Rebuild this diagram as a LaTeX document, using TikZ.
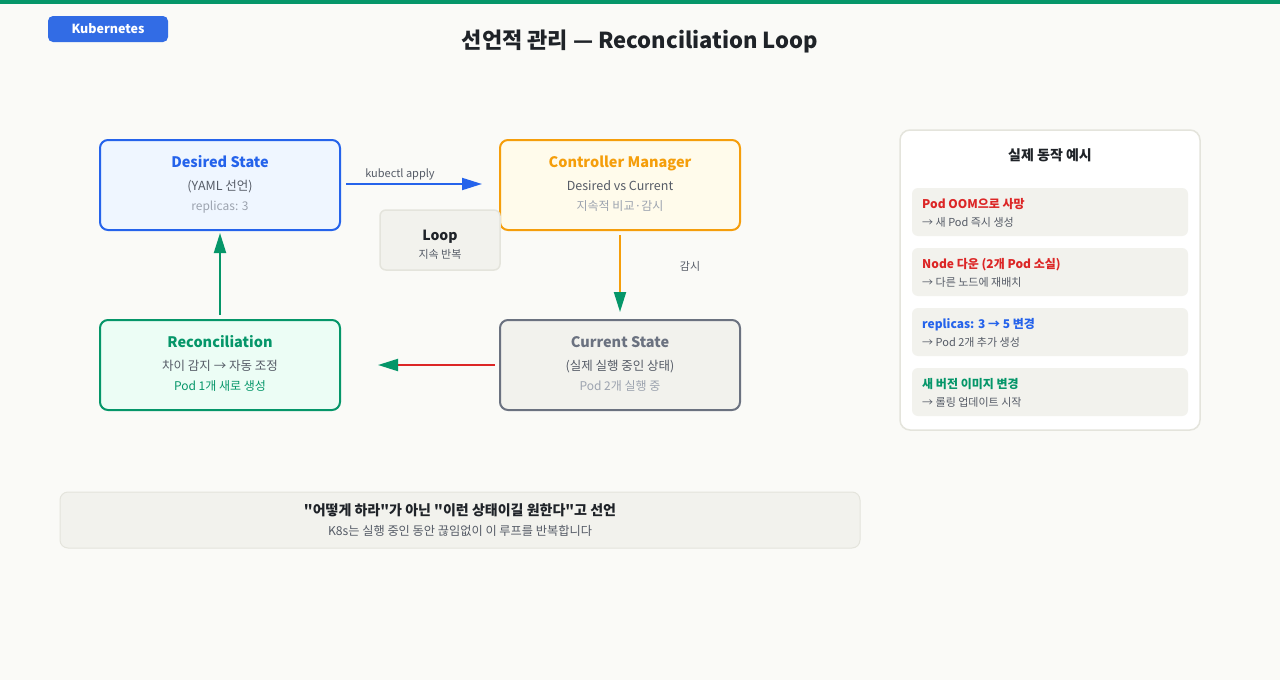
\documentclass[tikz,border=0pt]{standalone}
\usepackage{fontspec}
\setmainfont{Noto Sans CJK KR}[Ligatures=TeXOff]
\usetikzlibrary{arrows.meta, positioning, calc}
\definecolor{bgpaper}{HTML}{FAFAF7}
\definecolor{k8sgreen}{HTML}{059669}
\definecolor{k8sblue}{HTML}{326CE5}
\definecolor{stblue}{HTML}{2563EB}
\definecolor{storange}{HTML}{F59E0B}
\definecolor{stred}{HTML}{DC2626}
\definecolor{stgray}{HTML}{6B7280}
\definecolor{txtdark}{HTML}{1F2328}
\definecolor{txtmid}{HTML}{555B66}
\definecolor{txtlight}{HTML}{9CA3AF}
\definecolor{softfill}{HTML}{F2F2ED}
\definecolor{softline}{HTML}{E4E4DC}
\definecolor{bluefill}{HTML}{EFF6FF}
\definecolor{orangefill}{HTML}{FFFBEB}
\definecolor{greenfill}{HTML}{ECFDF5}
\tikzset{
  statebox/.style={draw=#1, line width=2pt, rounded corners=8pt, minimum width=240pt, minimum height=90pt, inner sep=0pt},
  ttl/.style={anchor=base, inner sep=0pt, text=#1, font=\fontsize{14.5}{17}\selectfont\bfseries},
  sub/.style={anchor=base, inner sep=0pt, text=txtmid, font=\fontsize{12.5}{15}\selectfont},
  note/.style={anchor=base, inner sep=0pt, text=#1, font=\fontsize{12}{14}\selectfont},
  flow/.style={line width=2pt, draw=#1},
  arrowtip/.style={-{Triangle[length=20pt, width=12pt, color=#1]}},
  itembox/.style={fill=softfill, rounded corners=6pt, minimum width=276pt, minimum height=48pt, inner sep=0pt},
  itemhead/.style={anchor=base west, inner sep=0pt, text=#1, font=\fontsize{12}{15}\selectfont\bfseries},
  itemtext/.style={anchor=base west, inner sep=0pt, text=txtmid, font=\fontsize{11}{13}\selectfont},
}

\begin{document}
\begin{tikzpicture}[x=1pt, y=-1pt]
  \useasboundingbox (0,0) rectangle (1280,680);
  \fill[bgpaper] (0,0) rectangle (1280,680);
  \fill[k8sgreen] (0,0) rectangle (1280,4);

  % header
  \node[fill=k8sblue, rounded corners=5pt, minimum width=120pt, minimum height=26pt, inner sep=0pt] (badge) at (108,29) {};
  \node[anchor=base, inner sep=0pt, text=white, font=\fontsize{12.5}{15}\selectfont\bfseries] (badgetxt) at (108,33.5) {Kubernetes};
  \node[anchor=base, inner sep=0pt, text=txtdark, font=\fontsize{22}{26}\selectfont\bfseries] (title) at (640,48) {선언적 관리 — Reconciliation Loop};

  % the four states
  \node[statebox=stblue, fill=bluefill] (desired) at (220,185) {};
  \node[ttl=stblue] (desiredT) at (220,167.5) {Desired State};
  \node[sub] (desiredS) at (220,190.5) {(YAML 선언)};
  \node[note=txtlight] (desiredN) at (220,210) {replicas: 3};

  \node[statebox=storange, fill=orangefill] (ctrl) at (620,185) {};
  \node[ttl=storange] (ctrlT) at (620,167.5) {Controller Manager};
  \node[sub] (ctrlS) at (620,190.5) {Desired vs Current};
  \node[note=txtlight] (ctrlN) at (620,210) {지속적 비교·감시};

  \node[statebox=stgray, fill=softfill] (current) at (620,365) {};
  \node[ttl=stgray] (currentT) at (620,347.5) {Current State};
  \node[sub] (currentS) at (620,370.5) {(실제 실행 중인 상태)};
  \node[note=txtlight] (currentN) at (620,390) {Pod 2개 실행 중};

  \node[statebox=k8sgreen, fill=greenfill] (recon) at (220,365) {};
  \node[ttl=k8sgreen] (reconT) at (220,347.5) {Reconciliation};
  \node[sub] (reconS) at (220,370.5) {차이 감지 → 자동 조정};
  \node[note=k8sgreen] (reconN) at (220,390) {Pod 1개 새로 생성};

  \node[draw=softline, line width=1.5pt, fill=softfill, rounded corners=6pt, minimum width=120pt, minimum height=60pt] (loop) at (440,240) {};
  \node[ttl=txtdark, font=\fontsize{14}{17}\selectfont\bfseries] (loopT) at (440,240.5) {Loop};
  \node[note=txtmid, font=\fontsize{11}{13}\selectfont] (loopS) at (440,258) {지속 반복};

  % connectors
  \draw[flow=stblue, arrowtip=stblue] ([xshift=5pt]desired.east |- 0,184) -- ([xshift=-17pt]ctrl.west |- 0,184);
  \node[note=txtmid, font=\fontsize{11}{13}\selectfont] (applylbl) at (400,177) {kubectl apply};
  \draw[flow=storange, arrowtip=k8sgreen] ([yshift=-4pt]ctrl.south) -- ([yshift=7pt]current.north);
  \node[note=txtmid, font=\fontsize{11}{13}\selectfont] (watchlbl) at (690,270) {감시};
  \draw[flow=stred, arrowtip=k8sgreen] ([xshift=-4pt]current.west) -- ([xshift=37pt]recon.east);
  \draw[flow=k8sgreen, arrowtip=k8sgreen] ([yshift=4pt]recon.north) -- ([yshift=-2pt]desired.south);

  % examples panel
  \node[draw=softline, line width=1.5pt, fill=white, rounded corners=10pt, minimum width=300pt, minimum height=300pt] (panel) at (1050,280) {};
  \node[ttl=txtdark, font=\fontsize{14}{17}\selectfont\bfseries] (panelT) at (1050,160) {실제 동작 예시};
  \node[itembox] (ex1) at (1050,212) {};
  \node[itemhead=stred] (ex1h) at (922,208) {Pod OOM으로 사망};
  \node[itemtext] (ex1t) at (922,226) {→ 새 Pod 즉시 생성};
  \node[itembox] (ex2) at (1050,272) {};
  \node[itemhead=stred] (ex2h) at (922,268) {Node 다운 (2개 Pod 소실)};
  \node[itemtext] (ex2t) at (922,286) {→ 다른 노드에 재배치};
  \node[itembox] (ex3) at (1050,332) {};
  \node[itemhead=stblue] (ex3h) at (922,328) {replicas: 3 → 5 변경};
  \node[itemtext] (ex3t) at (922,346) {→ Pod 2개 추가 생성};
  \node[itembox] (ex4) at (1050,392) {};
  \node[itemhead=k8sgreen] (ex4h) at (922,388) {새 버전 이미지 변경};
  \node[itemtext] (ex4t) at (922,406) {→ 롤링 업데이트 시작};

  % bottom summary
  \node[draw=softline, line width=1pt, fill=softfill, rounded corners=8pt, minimum width=800pt, minimum height=56pt] (summary) at (460,520) {};
  \node[ttl=txtdark, font=\fontsize{14}{17}\selectfont\bfseries] (summaryT) at (460,515.5) {"어떻게 하라"가 아닌 "이런 상태이길 원한다"고 선언};
  \node[note=txtmid, font=\fontsize{12.2}{14}\selectfont] (summaryS) at (460,535.5) {K8s는 실행 중인 동안 끊임없이 이 루프를 반복합니다};
\end{tikzpicture}
\end{document}
